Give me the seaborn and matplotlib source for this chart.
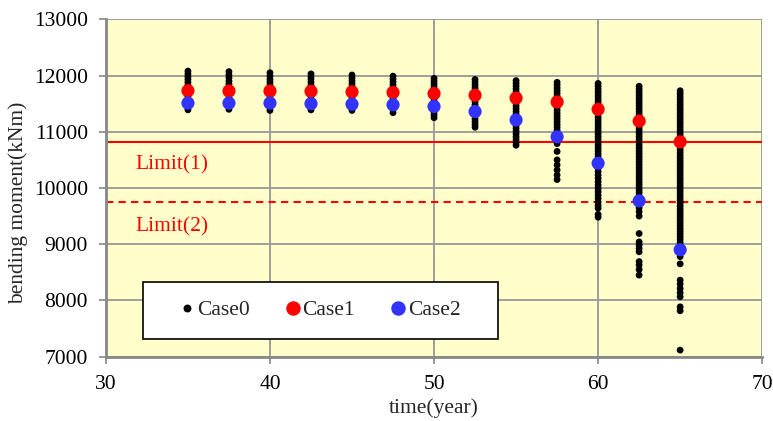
import pandas as pd
import seaborn as sns
import matplotlib.pyplot as plt
from matplotlib.patches import Rectangle
from matplotlib.lines import Line2D

# temps (années)
times = [35, 37.5, 40, 42.5, 45, 47.5, 50, 52.5, 55, 57.5, 60, 62.5, 65]

# Case1 / Case2 (une valeur par temps)
case1 = [11730, 11725, 11725, 11720, 11710, 11700, 11680, 11650, 11600, 11530, 11400, 11190, 10820]
case2 = [11510, 11510, 11510, 11500, 11490, 11480, 11450, 11360, 11210, 10910, 10440, 9770, 8900]

# Case0 : nuage de points par temps
case0_35 = [12080, 12030, 11980, 11930, 11880, 11830, 11780, 11730, 11680, 11630, 11580, 11530, 11480, 11440, 11390]
case0_375 = [12070, 12010, 11960, 11900, 11850, 11800, 11750, 11700, 11650, 11600, 11550, 11500, 11450, 11400]
case0_40 = [12050, 11990, 11940, 11890, 11840, 11790, 11740, 11690, 11640, 11590, 11540, 11490, 11440, 11380]
case0_425 = [12030, 11980, 11930, 11880, 11830, 11780, 11730, 11680, 11630, 11580, 11530, 11480, 11430, 11390]
case0_45 = [12010, 11960, 11910, 11860, 11810, 11760, 11710, 11660, 11610, 11560, 11510, 11460, 11420, 11380]
case0_475 = [11990, 11940, 11890, 11840, 11790, 11740, 11690, 11640, 11590, 11540, 11490, 11440, 11390, 11340]
case0_50 = [11950, 11900, 11850, 11800, 11750, 11700, 11650, 11600, 11550, 11500, 11450, 11400, 11350, 11300, 11250]
case0_525 = [11930, 11880, 11830, 11780, 11730, 11680, 11630, 11580, 11530, 11480, 11430, 11380, 11330, 11280,
             11230, 11180, 11130, 11080]
case0_55 = [11910, 11860, 11810, 11760, 11710, 11660, 11610, 11560, 11510, 11460, 11410, 11360, 11310, 11260,
            11210, 11160, 11110, 11060, 11010, 10960, 10910, 10860, 10810, 10760]
case0_575 = [11880, 11830, 11780, 11730, 11680, 11630, 11580, 11530, 11480, 11430, 11380, 11330, 11280, 11230,
             11180, 11130, 11080, 11030, 10980, 10930, 10880, 10830, 10790, 10650, 10500, 10410, 10320, 10230, 10150]
case0_60 = [11860, 11810, 11760, 11710, 11660, 11610, 11560, 11510, 11460, 11410, 11360, 11310, 11260, 11210,
            11160, 11110, 11060, 11010, 10960, 10910, 10860, 10810, 10760, 10710, 10660, 10610, 10560, 10510,
            10460, 10410, 10350, 10290, 10230, 10170, 10110, 10050, 9990, 9930, 9870, 9810, 9750, 9690, 9640,
            9530, 9480]
case0_625 = [11810, 11760, 11710, 11660, 11610, 11560, 11510, 11460, 11410, 11360, 11310, 11260, 11210, 11160,
             11110, 11060, 11010, 10960, 10910, 10860, 10810, 10760, 10710, 10660, 10610, 10560, 10510, 10460,
             10410, 10360, 10310, 10260, 10210, 10160, 10110, 10060, 10010, 9960, 9910, 9850, 9790, 9720, 9650,
             9580, 9500, 9190, 9040, 8985, 8925, 8865, 8690, 8630, 8550, 8450]
case0_65 = [11730, 11680, 11630, 11580, 11530, 11480, 11430, 11380, 11330, 11280, 11230, 11180, 11130, 11080,
            11030, 10980, 10930, 10880, 10830, 10780, 10730, 10680, 10630, 10580, 10530, 10480, 10430, 10380,
            10330, 10280, 10230, 10180, 10130, 10080, 10030, 9980, 9930, 9880, 9830, 9780, 9730, 9680, 9630,
            9580, 9530, 9480, 9430, 9380, 9330, 9280, 9230, 9180, 9130, 9080, 9030, 8980, 8930, 8880, 8830,
            8780, 8650, 8360, 8290, 8210, 8135, 8065, 7885, 7815, 7115]

case0_all = [case0_35, case0_375, case0_40, case0_425, case0_45, case0_475, case0_50,
             case0_525, case0_55, case0_575, case0_60, case0_625, case0_65]

limit1 = 10825
limit2 = 9745

rows = []
for t, vals in zip(times, case0_all):
    for v in vals:
        rows.append((t, v))
df0 = pd.DataFrame(rows, columns=['time', 'moment'])
df_cases = pd.DataFrame({'time': times, 'case1': case1, 'case2': case2})

sns.set_theme(style='white')
plt.rcParams['font.family'] = ['Liberation Serif', 'DejaVu Serif']
plt.rcParams['font.size'] = 15.5

fig = plt.figure(figsize=(7.73, 4.21), dpi=100)
ax = fig.add_axes([0.137, 0.153, 0.849, 0.801])
ax.set_facecolor('#FFFFCC')

sns.scatterplot(data=df0, x='time', y='moment', color='black', s=24, edgecolor='none', ax=ax, zorder=3)
sns.scatterplot(data=df_cases, x='time', y='case1', color='#FF0000', s=90, edgecolor='none', ax=ax, zorder=4)
sns.scatterplot(data=df_cases, x='time', y='case2', color='#3333FF', s=90, edgecolor='none', ax=ax, zorder=5)

ax.axhline(limit1, color='#FF0000', lw=1.5, zorder=2)
ax.axhline(limit2, color='#FF0000', lw=1.5, ls=(0, (3.5, 2.5)), zorder=2)
ax.text(34.0, 10420, 'Limit(1)', color='#FF0000', ha='center', va='center', fontsize=15.5)
ax.text(34.0, 9300, 'Limit(2)', color='#FF0000', ha='center', va='center', fontsize=15.5)

ax.set_xlim(30, 70)
ax.set_ylim(7000, 13000)
ax.set_xticks([30, 40, 50, 60, 70])
ax.set_yticks([7000, 8000, 9000, 10000, 11000, 12000, 13000])
ax.grid(True, color='#999999', lw=1.3)
ax.set_axisbelow(True)
for s in ['top', 'right']:
    ax.spines[s].set_visible(False)
for s in ['left', 'bottom']:
    ax.spines[s].set_color('#888888')
    ax.spines[s].set_linewidth(2)
ax.tick_params(axis='both', direction='out', length=5, width=1.2, color='#888888',
               labelsize=15.5, labelcolor='black', left=True, bottom=True)
ax.tick_params(axis='y', pad=8)
ax.tick_params(axis='x', pad=8)
ax.set_xlabel('time(year)', fontsize=15.5)
ax.set_ylabel('bending moment(kNm)', fontsize=15.5)
ax.xaxis.set_label_coords(0.5, -0.125)
ax.yaxis.set_label_coords(-0.119, 0.455)

# Légende dans un cadre rectangulaire
ax.add_patch(Rectangle((0.056, 0.052), 0.542, 0.169, transform=ax.transAxes,
                       facecolor='white', edgecolor='black', lw=1.2, zorder=6))
handles = [
    Line2D([], [], ls='none', marker='o', color='black', ms=4.7),
    Line2D([], [], ls='none', marker='o', color='#FF0000', ms=9.4),
    Line2D([], [], ls='none', marker='o', color='#3333FF', ms=9.4),
]
leg = ax.legend(handles, ['Case0', 'Case1', 'Case2'], ncol=3, loc='center',
                bbox_to_anchor=(0.327, 0.137), frameon=False, fontsize=15.5,
                handlelength=0.6, handletextpad=0.15, columnspacing=1.7)
leg.set_zorder(7)

fig.savefig('out.png', dpi=100)
